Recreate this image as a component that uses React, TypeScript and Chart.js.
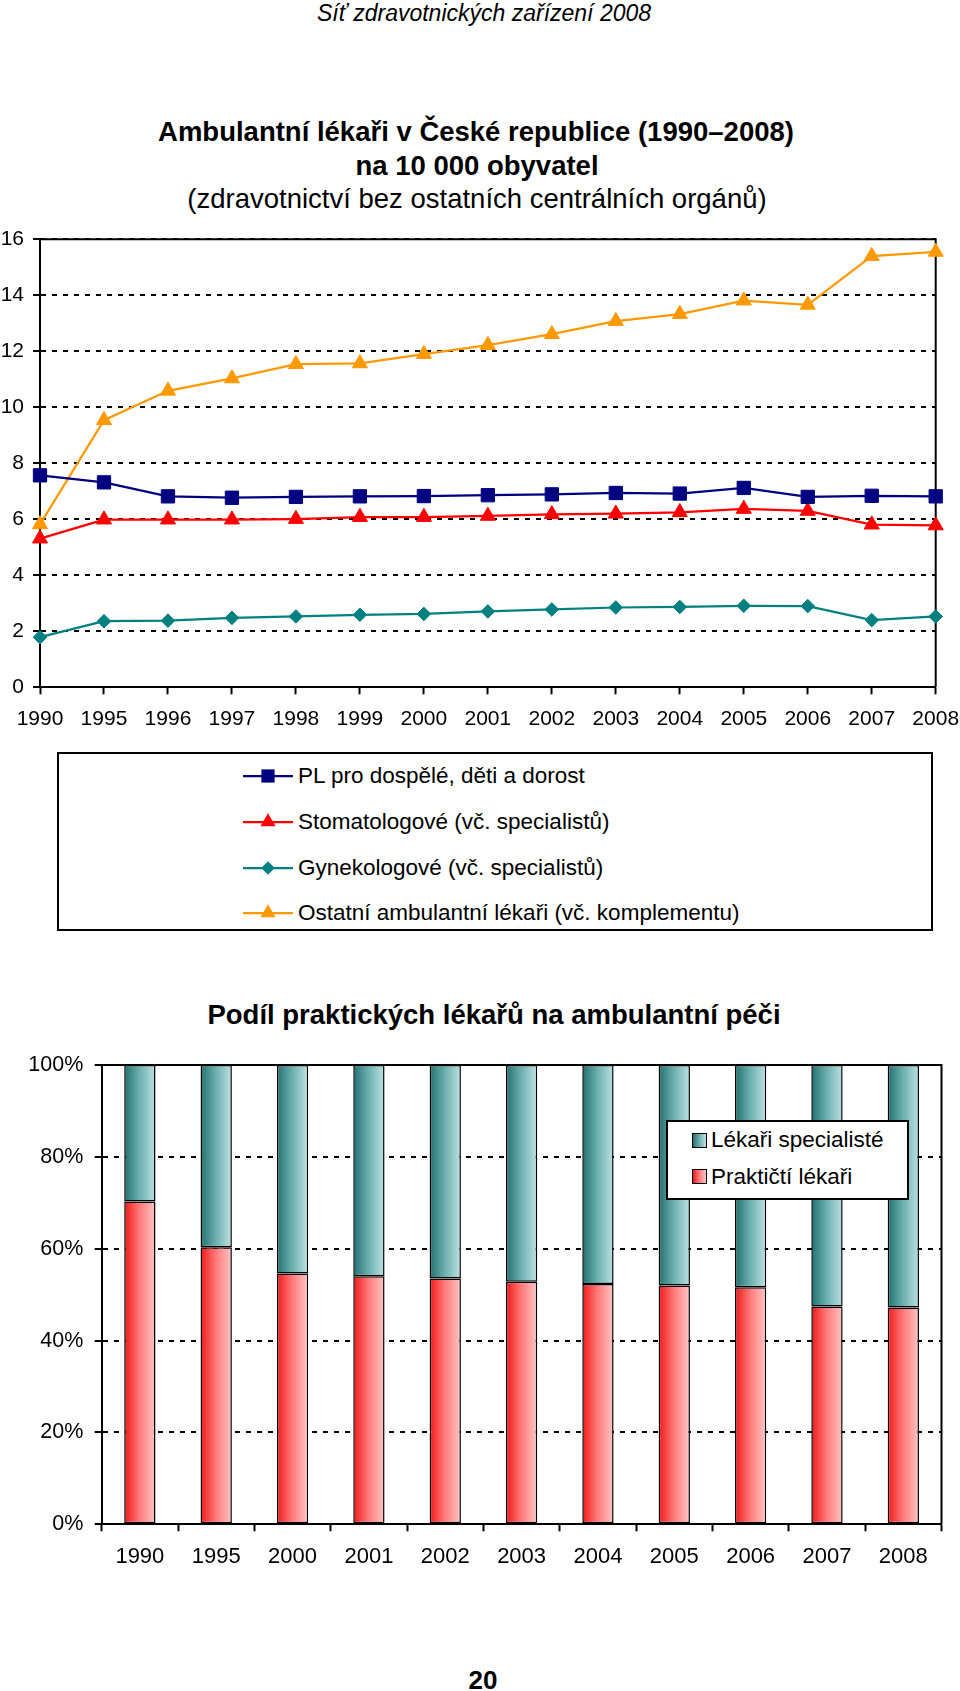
import React, { useEffect, useRef } from 'react';
import { Chart, registerables } from 'chart.js';

Chart.register(...registerables);

const FONT = "'Liberation Sans', Arial, Helvetica, sans-serif";

// ---------- Chart 1 data ----------
const years1 = ['1990', '1995', '1996', '1997', '1998', '1999', '2000', '2001', '2002', '2003', '2004', '2005', '2006', '2007', '2008'];
const plValues = [7.57, 7.32, 6.82, 6.77, 6.8, 6.82, 6.83, 6.86, 6.89, 6.94, 6.92, 7.12, 6.8, 6.84, 6.82];
const stomatologValues = [5.31, 5.99, 5.99, 5.99, 6.01, 6.08, 6.08, 6.12, 6.18, 6.2, 6.25, 6.37, 6.3, 5.81, 5.78];
const gynekologValues = [1.79, 2.36, 2.38, 2.48, 2.53, 2.59, 2.62, 2.71, 2.78, 2.85, 2.87, 2.91, 2.9, 2.4, 2.53];
const ostatniValues = [5.82, 9.54, 10.59, 11.03, 11.54, 11.57, 11.9, 12.22, 12.61, 13.08, 13.33, 13.81, 13.66, 15.4, 15.55];
const yTicks1 = [0, 2, 4, 6, 8, 10, 12, 14, 16];

const seriesLabels1 = [
  'PL pro dospělé, děti a dorost',
  'Stomatologové (vč. specialistů)',
  'Gynekologové (vč. specialistů)',
  'Ostatní ambulantní lékaři (vč. komplementu)',
];

// ---------- Chart 2 data ----------
const years2 = ['1990', '1995', '2000', '2001', '2002', '2003', '2004', '2005', '2006', '2007', '2008'];
const praktictiValues = [70.3, 60.3, 54.6, 54.0, 53.5, 52.8, 52.3, 52.0, 51.6, 47.4, 47.2];
const specialisteValues = [29.7, 39.7, 45.4, 46.0, 46.5, 47.2, 47.7, 48.0, 48.4, 52.6, 52.8];
const yTicks2 = [0, 20, 40, 60, 80, 100];
const seriesLabels2 = ['Lékaři specialisté', 'Praktičtí lékaři'];

// ---------- styles ----------
const NAVY = '#000080';
const RED = '#FF0000';
const TEAL = '#008080';
const ORANGE = '#FF9900';
const RED_STOPS = ['#f01818', '#ff7c7c', '#ffc6c6'];
const TEAL_STOPS = ['#22706f', '#6eb1b1', '#bfe2e2'];
const BAR_PCT = 0.41;
const GRID_DASH = [5, 6];

const framePlugin = {
  id: 'frame',
  beforeDatasetsDraw(chart: any) {
    const { ctx, chartArea: a } = chart;
    ctx.save();
    ctx.strokeStyle = '#000';
    ctx.lineWidth = 2;
    ctx.setLineDash([]);
    ctx.beginPath();
    ctx.moveTo(a.left, a.top);
    ctx.lineTo(a.right, a.top);
    ctx.lineTo(a.right, a.bottom);
    ctx.stroke();
    ctx.restore();
  },
};

function barGradient(stops: string[]) {
  return (c: any) => {
    const chart = c.chart;
    const xs = chart.scales && chart.scales.x;
    if (!xs || !chart.chartArea || c.dataIndex === undefined || !isFinite(xs.width)) return stops[1];
    const cx = xs.getPixelForValue(c.dataIndex);
    const w = (xs.width / years2.length) * BAR_PCT;
    if (!isFinite(cx)) return stops[1];
    const g = chart.ctx.createLinearGradient(cx - w / 2, 0, cx + w / 2, 0);
    g.addColorStop(0, stops[0]);
    g.addColorStop(0.5, stops[1]);
    g.addColorStop(1, stops[2]);
    return g;
  };
}

function LineChart() {
  const ref = useRef<HTMLCanvasElement>(null);
  useEffect(() => {
    const mk = (label: string, data: number[], color: string, style: string, r: number) => ({
      label,
      data,
      borderColor: color,
      backgroundColor: color,
      pointBackgroundColor: color,
      pointBorderColor: color,
      pointBorderWidth: 1,
      pointStyle: style,
      pointRadius: r,
      borderWidth: 2.25,
      tension: 0,
      fill: false,
    });
    const chart = new Chart(ref.current as HTMLCanvasElement, {
      type: 'line',
      data: {
        labels: years1,
        datasets: [
          mk(seriesLabels1[0], plValues, NAVY, 'rect', 9.4),
          mk(seriesLabels1[1], stomatologValues, RED, 'triangle', 8.7),
          mk(seriesLabels1[2], gynekologValues, TEAL, 'rectRot', 6.8),
          mk(seriesLabels1[3], ostatniValues, ORANGE, 'triangle', 8.7),
        ] as any,
      },
      options: {
        responsive: false,
        animation: false,
        devicePixelRatio: 1,
        events: [],
        layout: { padding: { left: 0, top: 19.3, right: 24.3, bottom: 7.7 } },
        plugins: { legend: { display: false }, title: { display: false }, tooltip: { enabled: false } },
        scales: {
          x: {
            type: 'category',
            offset: false,
            grid: { display: true, drawOnChartArea: false, drawTicks: true, tickLength: 7, tickColor: '#000', tickWidth: 2 },
            border: { display: true, color: '#000', width: 2 },
            ticks: { color: '#000', font: { family: FONT, size: 21 }, padding: 12, maxRotation: 0, autoSkip: false },
            afterFit: (s: any) => { s.height = 45; s.paddingLeft = 0; s.paddingRight = 0; },
          },
          y: {
            min: yTicks1[0],
            max: yTicks1[yTicks1.length - 1],
            afterBuildTicks: (s: any) => { s.ticks = yTicks1.map((v) => ({ value: v })); },
            grid: { color: '#000', lineWidth: 2, drawTicks: true, tickLength: 7, tickColor: '#000', tickWidth: 2 },
            border: { display: true, color: '#000', width: 2, dash: GRID_DASH },
            ticks: { color: '#000', font: { family: FONT, size: 21 }, padding: 9 },
            afterFit: (s: any) => { s.width = 40; s.paddingTop = 0; s.paddingBottom = 0; },
          },
        },
      } as any,
      plugins: [framePlugin],
    });
    return () => chart.destroy();
  }, []);
  return <canvas ref={ref} width={960} height={520} style={{ position: 'absolute', left: 0, top: 220, width: 960, height: 520 }} />;
}

function BarChart() {
  const ref = useRef<HTMLCanvasElement>(null);
  useEffect(() => {
    const common = {
      borderColor: '#000',
      borderWidth: 1.5,
      borderSkipped: false,
      barPercentage: BAR_PCT,
      categoryPercentage: 1,
      stack: 's',
    };
    const chart = new Chart(ref.current as HTMLCanvasElement, {
      type: 'bar',
      data: {
        labels: years2,
        datasets: [
          { label: seriesLabels2[1], data: praktictiValues, backgroundColor: barGradient(RED_STOPS), ...common },
          { label: seriesLabels2[0], data: specialisteValues, backgroundColor: barGradient(TEAL_STOPS), ...common },
        ] as any,
      },
      options: {
        responsive: false,
        animation: false,
        devicePixelRatio: 1,
        events: [],
        layout: { padding: { left: 0, top: 25, right: 18.5, bottom: 65.7 } },
        plugins: { legend: { display: false }, title: { display: false }, tooltip: { enabled: false } },
        scales: {
          x: {
            stacked: true,
            grid: { display: true, offset: true, drawOnChartArea: false, drawTicks: true, tickLength: 7, tickColor: '#000', tickWidth: 2 },
            border: { display: true, color: '#000', width: 2 },
            ticks: { color: '#000', font: { family: FONT, size: 22 }, padding: 12.5, maxRotation: 0, autoSkip: false },
            afterFit: (s: any) => { s.height = 50; s.paddingLeft = 0; s.paddingRight = 0; },
          },
          y: {
            stacked: true,
            min: yTicks2[0],
            max: yTicks2[yTicks2.length - 1],
            afterBuildTicks: (s: any) => { s.ticks = yTicks2.map((v) => ({ value: v })); },
            grid: { color: '#000', lineWidth: 2, drawTicks: true, tickLength: 7, tickColor: '#000', tickWidth: 2 },
            border: { display: true, color: '#000', width: 2, dash: GRID_DASH },
            ticks: { color: '#000', font: { family: FONT, size: 21.5 }, padding: 11.4, callback: (v: any) => v + '%' },
            afterFit: (s: any) => { s.width = 101.7; s.paddingTop = 0; s.paddingBottom = 0; },
          },
        },
      } as any,
      plugins: [framePlugin],
    });
    return () => chart.destroy();
  }, []);
  return <canvas ref={ref} width={960} height={600} style={{ position: 'absolute', left: 0, top: 1040, width: 960, height: 600 }} />;
}

function Text(props: { cx: number; cy: number; size: number; bold?: boolean; italic?: boolean; children: React.ReactNode }) {
  const h = Math.round(props.size * 1.3);
  return (
    <div
      style={{
        position: 'absolute',
        left: props.cx - 450,
        width: 900,
        top: props.cy - h / 2,
        height: h,
        lineHeight: h + 'px',
        textAlign: 'center',
        fontFamily: FONT,
        fontSize: props.size,
        fontWeight: props.bold ? 'bold' : 'normal',
        fontStyle: props.italic ? 'italic' : 'normal',
        color: '#000',
        whiteSpace: 'nowrap',
      }}
    >
      {props.children}
    </div>
  );
}

function LineSymbol({ color, shape }: { color: string; shape: string }) {
  let marker: React.ReactNode = null;
  if (shape === 'rect') marker = <rect x={25 - 6.6} y={10 - 6.6} width={13.2} height={13.2} fill={color} />;
  if (shape === 'triangle') marker = <polygon points={`25,${10 - 8.7} ${25 + 7.53},${10 + 4.35} ${25 - 7.53},${10 + 4.35}`} fill={color} />;
  if (shape === 'rectRot') marker = <polygon points={`25,${10 - 6.8} ${25 + 6.8},10 25,${10 + 6.8} ${25 - 6.8},10`} fill={color} />;
  return (
    <svg width={50} height={20} style={{ display: 'block' }}>
      <line x1={0} y1={10} x2={50} y2={10} stroke={color} strokeWidth={2.25} />
      {marker}
    </svg>
  );
}

export default function App() {
  const legend1 = [
    { label: seriesLabels1[0], color: NAVY, shape: 'rect' },
    { label: seriesLabels1[1], color: RED, shape: 'triangle' },
    { label: seriesLabels1[2], color: TEAL, shape: 'rectRot' },
    { label: seriesLabels1[3], color: ORANGE, shape: 'triangle' },
  ];
  const legend2 = [
    { label: seriesLabels2[0], stops: TEAL_STOPS },
    { label: seriesLabels2[1], stops: RED_STOPS },
  ];
  return (
    <div style={{ position: 'absolute', left: 0, top: 0, width: 960, height: 1691, background: '#fff', overflow: 'hidden' }}>
      <Text cx={484} cy={13} size={23} italic>Síť zdravotnických zařízení 2008</Text>
      <Text cx={476} cy={132} size={27.5} bold>Ambulantní lékaři v České republice (1990–2008)</Text>
      <Text cx={477} cy={166} size={27.5} bold>na 10 000 obyvatel</Text>
      <Text cx={477} cy={199} size={27.5}>(zdravotnictví bez ostatních centrálních orgánů)</Text>

      <LineChart />

      <div style={{ position: 'absolute', left: 57, top: 752, width: 876, height: 179, border: '2px solid #000', boxSizing: 'border-box' }} />
      {legend1.map((it, i) => {
        const cy = 776 + 45.8 * i;
        return (
          <React.Fragment key={it.label}>
            <div style={{ position: 'absolute', left: 243, top: cy - 10 }}>
              <LineSymbol color={it.color} shape={it.shape} />
            </div>
            <div style={{ position: 'absolute', left: 298, top: cy - 15, height: 30, lineHeight: '30px', fontFamily: FONT, fontSize: 22.5, color: '#000', whiteSpace: 'nowrap' }}>
              {it.label}
            </div>
          </React.Fragment>
        );
      })}

      <Text cx={494} cy={1015} size={27.5} bold>Podíl praktických lékařů na ambulantní péči</Text>

      <BarChart />

      <div style={{ position: 'absolute', left: 666, top: 1120, width: 243, height: 80, border: '2px solid #000', boxSizing: 'border-box', background: '#fff' }} />
      {legend2.map((it, i) => {
        const cy = 1140 + 36.7 * i;
        return (
          <React.Fragment key={it.label}>
            <div
              style={{
                position: 'absolute',
                left: 692,
                top: cy - 7.5,
                width: 15,
                height: 15,
                boxSizing: 'border-box',
                border: '1.5px solid #000',
                background: `linear-gradient(to right, ${it.stops[0]}, ${it.stops[1]}, ${it.stops[2]})`,
              }}
            />
            <div style={{ position: 'absolute', left: 711, top: cy - 15, height: 30, lineHeight: '30px', fontFamily: FONT, fontSize: 22.5, color: '#000', whiteSpace: 'nowrap' }}>
              {it.label}
            </div>
          </React.Fragment>
        );
      })}

      <Text cx={483} cy={1680} size={26} bold>20</Text>
    </div>
  );
}
